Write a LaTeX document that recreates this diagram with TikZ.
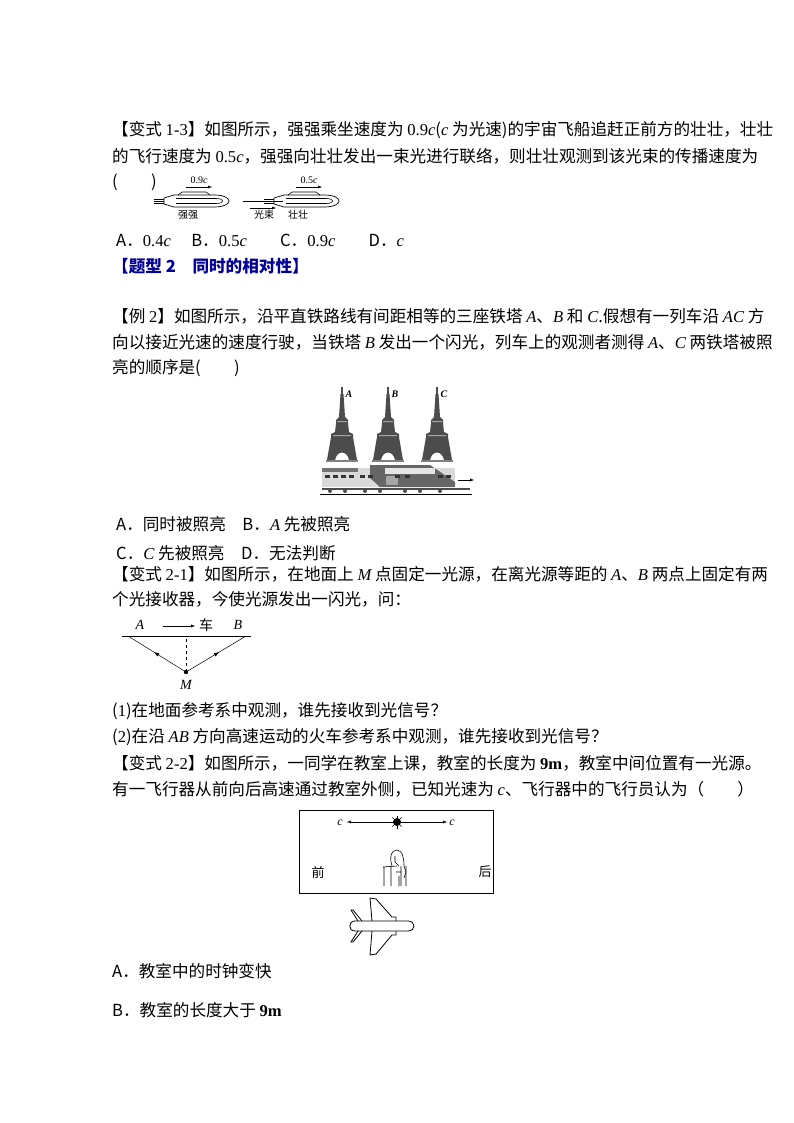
\documentclass[tikz,border=0pt]{standalone}
\usepackage{fontspec}
\setmainfont{Noto Sans CJK SC}
\newfontfamily\lat{Liberation Serif}
\newcommand\myvi[1]{{\lat\itshape #1}}
\newcommand\mylt[1]{{\lat #1}}
\usetikzlibrary{arrows.meta,decorations.markings}
\tikzset{
 txt/.style={anchor=west,inner sep=0pt,font=\fontsize{16.6}{17}\selectfont},
 lbl/.style={inner sep=0pt,font=\fontsize{9}{10}\selectfont},
 ar/.style={-{Latex[length=4pt,width=3pt]}},
 midarrow/.style={postaction={decorate},decoration={markings,mark=at position 0.55 with {\arrow{Latex[length=5pt,width=4pt]}}}}
}
\begin{document}
\begin{tikzpicture}[x=1pt,y=-1pt]
\useasboundingbox (0,0) rectangle (794,1123);
\node[txt] (l1) at (112,130) {【变式 \mylt{1-3}】如图所示，强强乘坐速度为 \mylt{0.9}\myvi{c}(\myvi{c} 为光速)的宇宙飞船追赶正前方的壮壮，壮壮};
\node[txt] (l2) at (112,156) {的飞行速度为 \mylt{0.5}\myvi{c}，强强向壮壮发出一束光进行联络，则壮壮观测到该光束的传播速度为};
\node[txt] (l3) at (112,182) {(　　)};
% ships
\foreach \x/\n/\v/\nm in {152/s1/0.9/强强,262/s2/0.5/壮壮}{
 \begin{scope}[shift={(\x,201)}]
  \draw[line width=0.7pt] (12,-3) -- (22,-6) -- (62,-6) .. controls (82,-6) and (82,6) .. (62,6) -- (22,6) -- (12,3) -- cycle;
  \draw[line width=0.6pt] (24,-2.5) -- (64,-2.5) .. controls (73,-2.5) and (73,2.5) .. (64,2.5) -- (24,2.5);
  \draw[line width=0.6pt] (26,-6) -- (30,-9) -- (54,-9) -- (58,-6);
  \draw[line width=0.6pt] (2,-2)--(12,-2) (2,0)--(12,0) (2,2)--(12,2);
  \draw[ar] (34,-14) -- (60,-14);
  \node[lbl,font=\fontsize{10}{11}\selectfont] at (47,-21) {\mylt{\v}\myvi{c}};
  \node[lbl,font=\fontsize{10}{11}\selectfont] at (36,14) {\nm};
 \end{scope}}
\draw[line width=0.6pt] (243,201) -- (283,201);
\draw[ar] (250,208) -- (276,208);
\node[lbl,font=\fontsize{10}{11}\selectfont] (gs) at (264,215) {光束};
\node[txt] (ans1) at (116,240) {A．\mylt{0.4}\myvi{c}　 B．\mylt{0.5}\myvi{c}　　C．\mylt{0.9}\myvi{c}　　D．\myvi{c}};
\node[txt,text=blue!60!black,font=\fontsize{16.6}{17}\selectfont\bfseries] (t2) at (112,266) {【题型 2　同时的相对性】};
\node[txt] (l4) at (112,316) {【例 \mylt{2}】如图所示，沿平直铁路线有间距相等的三座铁塔 \myvi{A}、\myvi{B} 和 \myvi{C}.假想有一列车沿 \myvi{AC} 方};
\node[txt] (l5) at (112,342) {向以接近光速的速度行驶，当铁塔 \myvi{B} 发出一个闪光，列车上的观测者测得 \myvi{A}、\myvi{C} 两铁塔被照};
\node[txt] (l6) at (112,368) {亮的顺序是(　　)};
% towers
\foreach \x/\n in {342/A,388/B,437/C}{
 \begin{scope}[shift={(\x,462)}]
  \fill[black!70] (-0.8,-75) rectangle (0.8,-68);
  \fill[black!70] (-1.5,-68) -- (1.5,-68) -- (3,-45) -- (6,-42) -- (6,-39) -- (7,-30) -- (11,-28) -- (11,-25) -- (15,-2) -- (7,-2) .. controls (5,-12) and (-5,-12) .. (-7,-2) -- (-15,-2) -- (-11,-25) -- (-11,-28) -- (-7,-30) -- (-6,-39) -- (-6,-42) -- (-3,-45) -- cycle;
  \fill[black!50] (-16,-2) rectangle (16,0);
  \fill[white,opacity=0.5] (-9,-27) rectangle (9,-26) (-5,-41) rectangle (5,-40);
  \node[lbl,font=\fontsize{10}{11}\selectfont\lat\itshape\bfseries] at (7,-68) {\n};
 \end{scope}}
% train
\fill[black!15] (322,468) rectangle (455,487);
\fill[black!55] (322,468) rectangle (358,472);
\fill[black!60] (370,465) -- (430,465) -- (455,482) -- (455,487) -- (380,487) -- (370,478) -- cycle;
\fill[black!10] (385,468) rectangle (435,474);
\fill[black!35] (386,476) rectangle (398,485);
\foreach \x in {325,333,341,349,360,368,395,405,438,446}{\fill[black!80] (\x,475) rectangle ++(5,3);}
\draw[line width=1.3pt,black!70] (322,489) -- (470,489);
\foreach \x in {330,345,365,380,405,420,440}{\fill[black!70] (\x,491) circle (2);}
\draw[line width=0.8pt] (320,494) -- (472,494);
\draw[ar] (458,480) -- (474,480);
\node[txt] (ans2) at (116,524) {A．同时被照亮　B．\myvi{A} 先被照亮};
\node[txt] (ans3) at (116,553) {C．\myvi{C} 先被照亮　D．无法判断};
\node[txt] (l7) at (112,574) {【变式 \mylt{2-1}】如图所示，在地面上 \myvi{M} 点固定一光源，在离光源等距的 \myvi{A}、\myvi{B} 两点上固定有两};
\node[txt] (l8) at (112,599) {个光接收器，今使光源发出一闪光，问：};
% AB M
\coordinate (pl) at (122,636); \coordinate (pr) at (251,636);
\coordinate (ea) at (128,636); \coordinate (eb) at (246,636);
\coordinate (top) at (186,636);
\draw[line width=0.6pt] (pl) -- (pr);
\node[inner sep=0pt,font=\fontsize{14}{15}\selectfont\lat\itshape] (A) at (140,625) {A};
\node[inner sep=0pt,font=\fontsize{14}{15}\selectfont\lat\itshape] (B) at (238,625) {B};
\node[inner sep=0pt,font=\fontsize{14}{15}\selectfont] (car) at (206,625) {车};
\draw[ar] (163,626) -- (195,626);
\fill (186,672) circle (2.2) coordinate (M);
\draw[dashed] (M) -- (top);
\draw[midarrow,line width=0.5pt] (M) -- (ea);
\draw[midarrow,line width=0.5pt] (M) -- (eb);
\node[inner sep=0pt,font=\fontsize{14}{15}\selectfont\lat\itshape] (Ml) at (186,685) {M};
\node[txt] (q1) at (112,711) {(\mylt{1})在地面参考系中观测，谁先接收到光信号？};
\node[txt] (q2) at (112,737) {(\mylt{2})在沿 \myvi{AB} 方向高速运动的火车参考系中观测，谁先接收到光信号？};
\node[txt] (l9) at (112,763) {【变式 \mylt{2-2}】如图所示，一同学在教室上课，教室的长度为 \mylt{\bfseries 9m}，教室中间位置有一光源。};
\node[txt] (l10) at (112,789) {有一飞行器从前向后高速通过教室外侧，已知光速为 \myvi{c}、飞行器中的飞行员认为（　　）};
% classroom
\draw[line width=0.7pt] (299,810) rectangle (493,893);
\fill (397,822) circle (4) coordinate (sun);
\foreach \a in {0,45,...,315}{\draw[line width=0.6pt] (sun) -- ++(\a:6.5);}
\draw[ar] (391,822) -- (347,822);
\draw[ar] (403,822) -- (447,822);
\node[lbl,font=\fontsize{12}{12}\selectfont\lat\itshape] (c1) at (340,823) {c};
\node[lbl,font=\fontsize{12}{12}\selectfont\lat\itshape] (c2) at (452,823) {c};
\node[lbl,font=\fontsize{13}{13}\selectfont] (qian) at (318,872) {前};
\node[lbl,font=\fontsize{13}{13}\selectfont] (hou) at (485,872) {后};
% student
\draw[line width=0.6pt] (397,850) .. controls (391,850) and (390,857) .. (391,862) -- (392,866) (397,850) .. controls (403,850) and (404,860) .. (404,866) -- (406,872) -- (404,878);
\draw[line width=0.6pt] (395,856) -- (395,862) -- (399,866);
\draw[line width=0.6pt] (383,867) -- (397,866) (384,867) -- (384,886) (391,867) -- (391,886) (401,866) -- (401,886) (406,866) -- (406,886) (396,872) -- (401,872) (399,876) -- (399,886);
% plane
\draw[line width=0.8pt] (355,921) -- (408,921) .. controls (416,921) and (416,931) .. (408,931) -- (355,931) .. controls (348,931) and (348,921) .. (355,921);
\draw[line width=0.8pt] (372,921) -- (370,898) -- (376,899) -- (392,917) -- (396,917) -- (396,921);
\draw[line width=0.8pt] (372,931) -- (370,955) -- (376,954) -- (392,935) -- (396,935) -- (396,931);
\draw[line width=0.8pt] (358,921) -- (351,910) -- (353,910) -- (362,921);
\draw[line width=0.8pt] (358,931) -- (351,942) -- (353,942) -- (362,931);
\node[txt] (ans4) at (112,971) {A．教室中的时钟变快};
\node[txt] (ans5) at (112,1010) {B．教室的长度大于 \mylt{\bfseries 9m}};
\end{tikzpicture}
\end{document}
